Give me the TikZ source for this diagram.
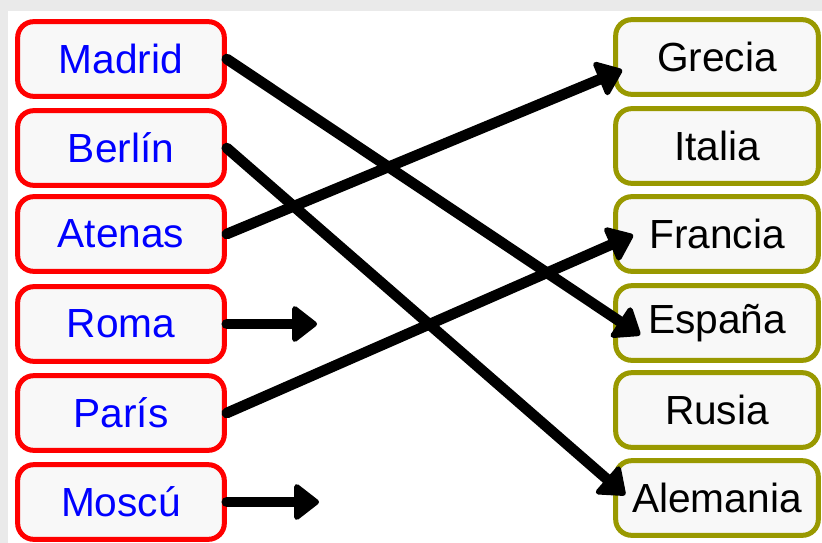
\documentclass[tikz,border=0pt]{standalone}
\usepackage{fontspec}
\setmainfont{Liberation Sans}
\usetikzlibrary{arrows.meta}
\definecolor{cityred}{RGB}{255,0,0}
\definecolor{landolive}{RGB}{153,153,0}
\definecolor{boxfill}{RGB}{248,248,248}
\definecolor{framegray}{RGB}{234,234,234}

\begin{document}
\begin{tikzpicture}[x=0.75pt,y=-0.75pt,
  city/.style={draw=cityred, line width=3.75pt, fill=boxfill, rounded corners=12pt,
    minimum width=155pt, minimum height=56pt, inner sep=0pt, text=blue,
    font=\fontsize{30.5}{33}\selectfont},
  land/.style={city, draw=landolive, minimum width=152pt, text=black},
  link/.style={line width=8pt, line cap=round,
    -{Triangle[width=30pt, length=20pt, round, line width=4pt]}}]
  \useasboundingbox (0,0) rectangle (822,543);
  \fill[framegray] (0,0) rectangle (822,543);
  \fill[white] (8,11) rectangle (822,543);

  % capitals
  \node[city] (madrid) at (121,59) {Madrid};
  \node[city] (berlin) at (121,148) {Berlín};
  \node[city] (atenas) at (121,234) {Atenas};
  \node[city] (roma)   at (121,324) {Roma};
  \node[city] (paris)  at (121,413) {París};
  \node[city] (moscu)  at (121,502) {Moscú};

  % countries
  \node[land] (grecia)   at (717,57)  {Grecia};
  \node[land] (italia)   at (717,146) {Italia};
  \node[land] (francia)  at (717,234) {Francia};
  \node[land] (espana)   at (717,323) {España};
  \node[land] (rusia)    at (717,410) {Rusia};
  \node[land] (alemania) at (717,498) {Alemania};

  \coordinate (romaend)  at (317,324);
  \coordinate (moscuend) at (319,502);

  \draw[link] (madrid.east) -- ([shift={(27,12)}]espana.west);
  \draw[link] (berlin.east) -- ([shift={(12,-3)}]alemania.west);
  \draw[link] (atenas.east) -- ([shift={(9,13)}]grecia.west);
  \draw[link] (roma.east) -- (romaend);
  \draw[link] (paris.east) -- ([shift={(20,1)}]francia.west);
  \draw[link] (moscu.east) -- (moscuend);
\end{tikzpicture}
\end{document}
